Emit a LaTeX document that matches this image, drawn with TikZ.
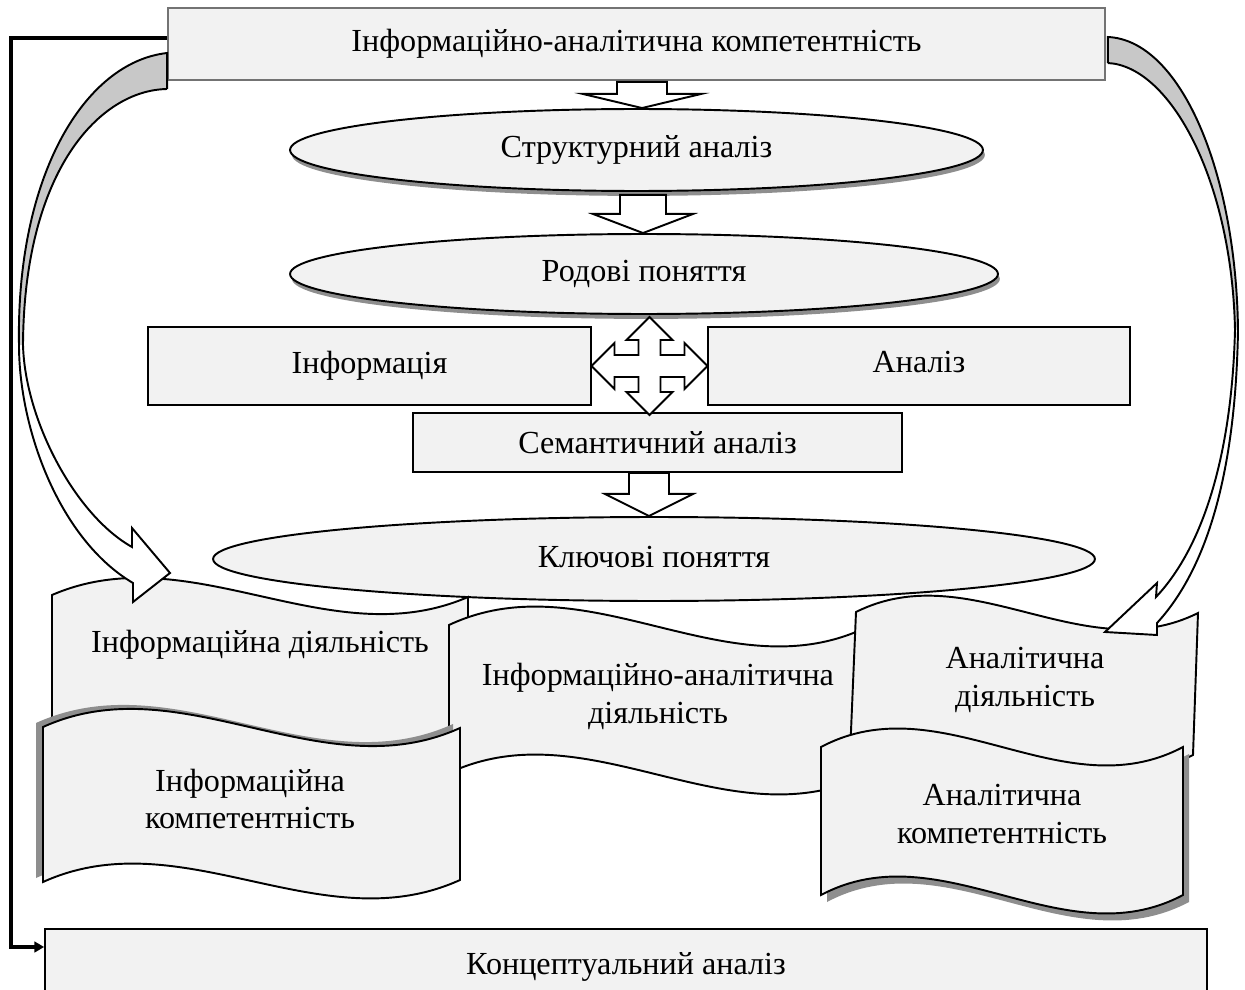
\documentclass[tikz,border=0pt]{standalone}
\usepackage{fontspec}
\setmainfont{Liberation Serif}
\newfontfamily\diagfont{Liberation Serif}
\usetikzlibrary{calc,shapes.geometric,arrows.meta,shadows}

\definecolor{boxfill}{HTML}{F2F2F2}
\definecolor{bandgray}{HTML}{C8C8C8}
\definecolor{shadowgray}{HTML}{8E8E8E}

\tikzset{
  every node/.style={font=\diagfont\fontsize{18.3}{21.6}\selectfont, align=center},
  framebox/.style={draw=black, line width=1.1pt, fill=boxfill, rectangle, inner sep=0pt},
  headbox/.style={draw=black!55, line width=1pt, fill=boxfill, rectangle, inner sep=0pt},
  oval/.style={draw=black, line width=1.1pt, fill=boxfill, ellipse, inner sep=0pt},
  ovalshadow/.style={drop shadow={shadow xshift=1.1pt, shadow yshift=-2.8pt, fill=shadowgray, opacity=1}},
  blockarr/.style={draw=black, line width=1.1pt, fill=white, line join=miter},
  wave/.style={draw=black, line width=1.1pt, fill=boxfill},
  waveshadow/.style={fill=shadowgray},
  curvebody/.style={fill=white},
  curveline/.style={draw=black, line width=1.1pt, line join=miter},
  link/.style={draw=black, line width=2pt},
  txt/.style={inner sep=0pt}
}

\begin{document}
\begin{tikzpicture}[x=0.02cm,y=-0.02cm]
\useasboundingbox (0,0) rectangle (1245,990);

% ---------- boxes and ovals ----------
\node[headbox, minimum width=18.74cm, minimum height=1.44cm] (top) at (636.5,44)
  {\raisebox{1pt}{Інформаційно-аналітична компетентність}};

\node[oval, ovalshadow, minimum width=13.86cm, minimum height=1.64cm] (sa) at (636.5,150) {Структурний аналіз};
\node[oval, ovalshadow, minimum width=14.16cm, minimum height=1.6cm] (rp) at (644,274) {Родові поняття};

\node[framebox, minimum width=8.86cm, minimum height=1.56cm] (inf) at (369.5,366) {\raisebox{4.5pt}{Інформація}};
\node[framebox, minimum width=8.44cm, minimum height=1.56cm] (an) at (919,366) {\raisebox{4.5pt}{Аналіз}};
\node[framebox, minimum width=9.78cm, minimum height=1.18cm] (sem) at (657.5,442.5) {Семантичний аналіз};

\node[oval, minimum width=17.64cm, minimum height=1.68cm] (kp) at (654,559) {\raisebox{2pt}{Ключові поняття}};

\node[framebox, minimum width=23.24cm, minimum height=1.52cm] (ca) at (626,967) {Концептуальний аналіз};

% ---------- straight block arrows ----------
\coordinate (c1) at (642,0);
\coordinate (c2) at (643,0);
\coordinate (c3) at (649,0);
\draw[blockarr] ($(top.south -| c1)+(-25,1)$) -- ++(50,0) -- ++(0,12) -- ++(34.5,0)
  -- (c1 |- sa.north) -- ($(top.south -| c1)+(-59.5,13)$) -- ++(34.5,0) -- cycle;
\draw[blockarr] ($(sa.south -| c2)+(-23,3)$) -- ++(46,0) -- ++(0,19) -- ++(27,0)
  -- (c2 |- rp.north) -- ($(sa.south -| c2)+(-50,22)$) -- ++(27,0) -- cycle;
\draw[blockarr] ($(sem.south -| c3)+(-20,0)$) -- ++(40,0) -- ++(0,21) -- ++(24,0)
  -- (c3 |- kp.north) -- ($(sem.south -| c3)+(-44,21)$) -- ++(24,0) -- cycle;

% four-way arrow between the two boxes
\coordinate (hub) at ($(inf.east)!0.5!(an.west)$);
\draw[blockarr, shift={(hub)}] (0,-49) -- (23,-26) -- (11,-26) -- (11,-11) -- (35,-11) -- (35,-23)
  -- (58,0) -- (35,23) -- (35,11) -- (11,11) -- (11,26) -- (23,26) -- (0,49) -- (-23,26)
  -- (-11,26) -- (-11,11) -- (-35,11) -- (-35,23) -- (-58,0) -- (-35,-23) -- (-35,-11)
  -- (-11,-11) -- (-11,-26) -- (-23,-26) -- cycle;

% ---------- wave banners ----------
\draw[wave] (52,595) .. controls (190.7,535) and (329.3,657) .. (468,597) -- (468,747)
  .. controls (329.3,807) and (190.7,685) .. (52,745) -- cycle;
\node[txt] (ia) at (260,645) {Інформаційна діяльність};

\draw[wave] (449,625) .. controls (587.7,560) and (726.3,693) .. (865,628) -- (865,776)
  .. controls (726.3,841) and (587.7,708) .. (449,773) -- cycle;
\node[txt] (iad) at (658,696) {Інформаційно-аналітична\\діяльність};

\draw[wave] (856,612) .. controls (970,555) and (1084,670) .. (1198,613) -- (1193,755)
  .. controls (1078.7,812) and (964.3,698) .. (850,755) -- cycle;
\node[txt] (ad) at (1025,680) {Аналітична\\діяльність};

\fill[waveshadow, shift={(-7,-4)}] (43,727) .. controls (182,664) and (321,791) .. (460,728) -- (460,880)
  .. controls (321,943) and (182,819) .. (43,882) -- cycle;
\draw[wave] (43,727) .. controls (182,664) and (321,791) .. (460,728) -- (460,880)
  .. controls (321,943) and (182,819) .. (43,882) -- cycle;
\node[txt] (ic) at (250,799) {Інформаційна\\компетентність};

\fill[waveshadow, shift={(6,7)}] (821,747) .. controls (941.7,683) and (1062.3,811) .. (1183,747) -- (1183,895)
  .. controls (1062.3,959) and (941.7,831) .. (821,895) -- cycle;
\draw[wave] (821,747) .. controls (941.7,683) and (1062.3,811) .. (1183,747) -- (1183,895)
  .. controls (1062.3,959) and (941.7,831) .. (821,895) -- cycle;
\node[txt] (ac) at (1002,814) {Аналітична\\компетентність};

% ---------- curved block arrows ----------
\coordinate (la1) at ($(top.west)+(0,9)$);
\coordinate (la2) at ($(top.west)+(0,45)$);
\coordinate (ra1) at ($(top.east)+(2,-7)$);
\coordinate (ra2) at ($(top.east)+(2,19)$);

% left arrow into the first banner
\path[curvebody] (la2) -- (la1) .. controls (85,62) and (16,175) .. (19,345)
  .. controls (19,430) and (60,540) .. (133,583) -- (133,602) -- (170,573) -- (132,528) -- (132,547)
  .. controls (75,515) and (25,420) .. (23,345) .. controls (24,170) and (100,90) .. (la2) -- cycle;
\fill[bandgray] (la1) .. controls (85,62) and (16,175) .. (19,345) -- (23,345)
  .. controls (24,170) and (100,90) .. (la2) -- cycle;
\draw[curveline] (la2) -- (la1) .. controls (85,62) and (16,175) .. (19,345)
  .. controls (19,430) and (60,540) .. (133,583) -- (133,602) -- (170,573) -- (132,528) -- (132,547)
  .. controls (75,515) and (25,420) .. (23,345) .. controls (24,170) and (100,90) .. (la2);

% right arrow into the third banner
\path[curvebody] (ra2) -- (ra1) .. controls (1180,40) and (1236,170) .. (1238,330)
  .. controls (1236,450) and (1215,560) .. (1157,623) -- (1157,635) -- (1105,632) -- (1157,583)
  -- (1156,597) .. controls (1205,545) and (1232,450) .. (1235,330)
  .. controls (1232,180) and (1170,66) .. (ra2) -- cycle;
\fill[bandgray] (ra1) .. controls (1180,40) and (1236,170) .. (1238,330) -- (1235,330)
  .. controls (1232,180) and (1170,66) .. (ra2) -- cycle;
\draw[curveline] (ra2) -- (ra1) .. controls (1180,40) and (1236,170) .. (1238,330)
  .. controls (1236,450) and (1215,560) .. (1157,623) -- (1157,635) -- (1105,632) -- (1157,583)
  -- (1156,597) .. controls (1205,545) and (1232,450) .. (1235,330)
  .. controls (1232,180) and (1170,66) .. (ra2);

% ---------- elbow connector to the bottom box ----------
\draw[link, -{Triangle[length=5.5pt,width=6pt]}] ($(top.west)+(0,-6)$) -- ++(-156,0)
  |- ($(ca.west)+(0,-20)$);

\end{tikzpicture}
\end{document}
